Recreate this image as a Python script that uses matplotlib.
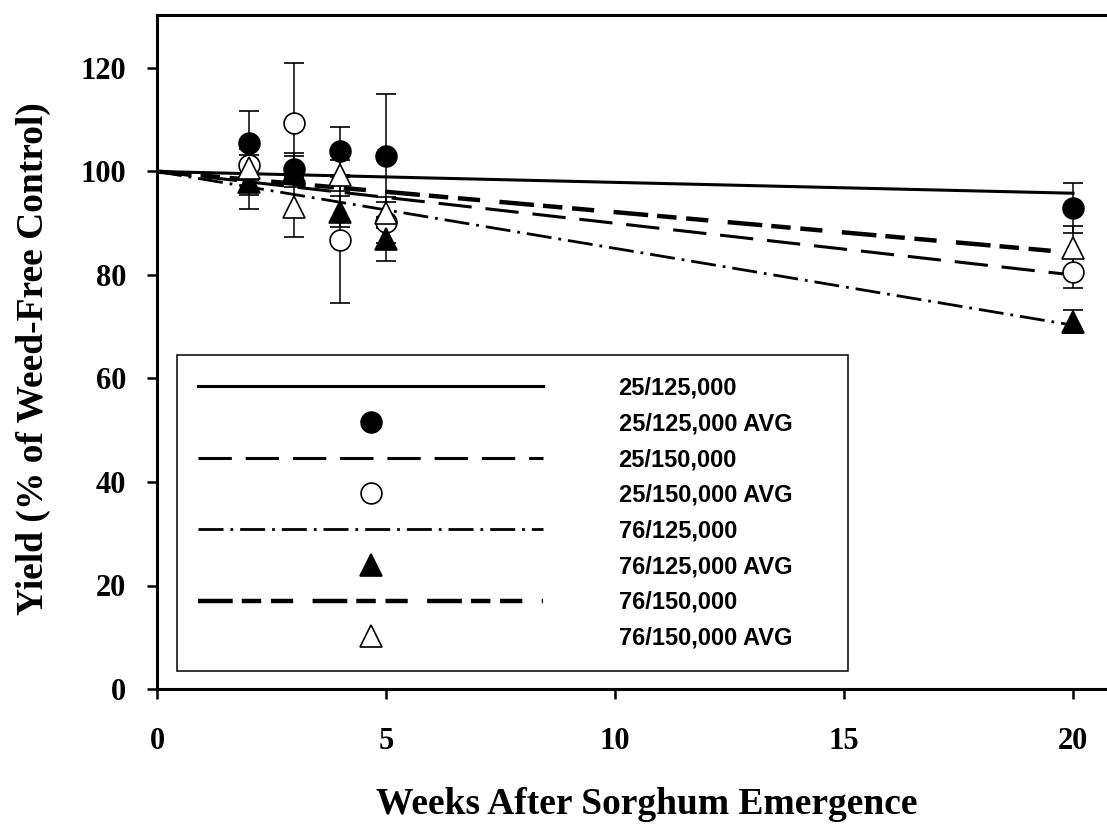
import numpy as np
import matplotlib
matplotlib.use("Agg")
import matplotlib.pyplot as plt
from matplotlib.lines import Line2D

plt.rcParams['lines.scale_dashes'] = False

# ---- data ----
weeks = [2, 3, 4, 5, 20]
fit_x = [0, 20]

avg_25_125 = [105.5, 100.5, 104.0, 103.0, 93.0]
err_25_125 = [6.2, 3.0, 4.6, 12.0, 4.8]
avg_25_150 = [101.3, 109.4, 86.8, 90.2, 80.5]
err_25_150 = [3.0, 11.6, 12.2, 4.0, 3.0]
avg_76_125 = [98.0, 100.0, 92.2, 87.0, 71.0]
err_76_125 = [5.2, 3.0, 3.0, 4.2, 2.2]
avg_76_150 = [100.7, 93.1, 99.3, 92.0, 85.2]
err_76_150 = [5.2, 5.8, 3.0, 3.0, 4.3]

fit_25_125 = [100.0, 95.8]
fit_25_150 = [100.0, 80.0]
fit_76_125 = [100.0, 70.3]
fit_76_150 = [100.0, 84.3]

line_labels = ["25/125,000", "25/150,000", "76/125,000", "76/150,000"]
avg_labels = ["25/125,000 AVG", "25/150,000 AVG", "76/125,000 AVG", "76/150,000 AVG"]
xticks = [0, 5, 10, 15, 20]
yticks = [0, 20, 40, 60, 80, 100, 120]

# ---- figure ----
fig = plt.figure(figsize=(11.07, 8.25), dpi=100)
ax = fig.add_axes([157/1107, 136/825, 950/1107, 674/825])

serif = ['Liberation Serif', 'DejaVu Serif']
sans = ['Liberation Sans', 'DejaVu Sans']

# regression lines
l1, = ax.plot(fit_x, fit_25_125, color='black', lw=2.2, ls='-', zorder=2)
l2, = ax.plot(fit_x, fit_25_150, color='black', lw=2.2, dashes=(24, 10), zorder=2)
l3, = ax.plot(fit_x, fit_76_125, color='black', lw=2.0, dashes=(18, 5, 2, 5), zorder=2)
l4, = ax.plot(fit_x, fit_76_150, color='black', lw=3.2,
              dashes=(25, 6.5, 14, 7, 16, 14), zorder=2)

ebkw = dict(ls='none', ecolor='black', elinewidth=1.1, capsize=7.2, capthick=1.4,
            mec='black', mew=1.2, zorder=3)
ax.errorbar(weeks, avg_25_125, yerr=err_25_125, fmt='o', ms=15, mfc='black', **ebkw)
ax.errorbar(weeks, avg_25_150, yerr=err_25_150, fmt='o', ms=15, mfc='white', **ebkw)
ax.errorbar(weeks, avg_76_125, yerr=err_76_125, fmt='^', ms=16, mfc='black', **ebkw)
ax.errorbar(weeks, avg_76_150, yerr=err_76_150, fmt='^', ms=16, mfc='white', **ebkw)

ax.set_xlim(0, 950/45.8)
ax.set_ylim(0, 674/5.175)
ax.set_xticks(xticks)
ax.set_yticks(yticks)
ax.spines['right'].set_visible(False)
for s in ['left', 'bottom', 'top']:
    ax.spines[s].set_linewidth(2.2)
ax.tick_params(axis='both', direction='out', length=7.2, width=1.8)
ax.tick_params(axis='y', pad=15)
ax.tick_params(axis='x', pad=20)
for lab in ax.get_xticklabels() + ax.get_yticklabels():
    lab.set_fontfamily(serif)
    lab.set_fontweight('bold')
    lab.set_fontsize(22)

ax.set_xlabel("Weeks After Sorghum Emergence", fontfamily=serif, fontweight='bold', fontsize=27)
ax.set_ylabel("Yield (% of Weed-Free Control)", fontfamily=serif, fontweight='bold', fontsize=27)
ax.xaxis.set_label_coords(0.515, -0.145)
ax.yaxis.set_label_coords(-0.112, 0.49)


def mk(marker, fc, ms):
    return Line2D([], [], ls='none', marker=marker, ms=ms, mfc=fc, mec='black', mew=1.2)

handles = [l1, mk('o', 'black', 15), l2, mk('o', 'white', 15),
           l3, mk('^', 'black', 16), l4, mk('^', 'white', 16)]
labels = [line_labels[0], avg_labels[0], line_labels[1], avg_labels[1],
          line_labels[2], avg_labels[2], line_labels[3], avg_labels[3]]

leg = ax.legend(handles, labels, loc='lower left', mode='expand',
                bbox_to_anchor=(20/950, 18/674, 671/950, 319/674), borderaxespad=0,
                prop={'family': sans, 'weight': 'bold', 'size': 17},
                handlelength=14.6, handletextpad=3.2, labelspacing=0.54,
                borderpad=0.9, numpoints=1, fancybox=False, framealpha=1,
                edgecolor='black')
leg.get_frame().set_linewidth(1.1)

fig.savefig("out.png", dpi=100)
